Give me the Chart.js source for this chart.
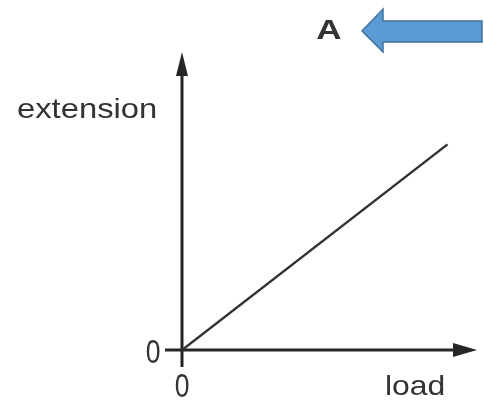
<!DOCTYPE html>
<html>
<head>
<meta charset="utf-8">
<script src="https://cdn.jsdelivr.net/npm/chart.js@4"></script>
<style>
  html, body { margin: 0; padding: 0; background: #fff; }
  #wrap { width: 484px; height: 404px; }
</style>
</head>
<body>
<div id="wrap"><canvas id="graph"></canvas></div>
<script>
// data: straight line through the origin
const load = [0, 9.0];
const extension = [0, 6.9];
const axisMax = 10;
const tickLabels = ['0'];
const xTitle = 'load';
const yTitle = 'extension';
const marker = 'A';

const ink = '#262626';

// draws the arrowed axes, labels and the blue pointer
const sketchPlugin = {
  id: 'sketch',
  beforeDatasetsDraw(chart) {
    const ctx = chart.ctx;
    const xs = chart.scales.x, ys = chart.scales.y;
    const ox = xs.getPixelForValue(0), oy = ys.getPixelForValue(0);
    const xEnd = xs.getPixelForValue(axisMax), yEnd = ys.getPixelForValue(axisMax);

    ctx.save();
    ctx.strokeStyle = ink;
    ctx.fillStyle = ink;
    ctx.lineWidth = 3;
    // x axis
    ctx.beginPath();
    ctx.moveTo(ox - 17, oy);
    ctx.lineTo(xEnd - 20, oy);
    ctx.stroke();
    ctx.beginPath();
    ctx.moveTo(xEnd, oy);
    ctx.lineTo(xEnd - 24, oy - 7);
    ctx.lineTo(xEnd - 24, oy + 7);
    ctx.closePath();
    ctx.fill();
    // y axis
    ctx.beginPath();
    ctx.moveTo(ox, oy + 17);
    ctx.lineTo(ox, yEnd + 20);
    ctx.stroke();
    ctx.beginPath();
    ctx.moveTo(ox, yEnd);
    ctx.lineTo(ox - 6, yEnd + 24);
    ctx.lineTo(ox + 6, yEnd + 24);
    ctx.closePath();
    ctx.fill();
    ctx.restore();
  },
  afterDraw(chart) {
    const ctx = chart.ctx;
    const xs = chart.scales.x, ys = chart.scales.y;
    const ox = xs.getPixelForValue(0), oy = ys.getPixelForValue(0);

    const text = (str, x, y, size, sx, align, weight) => {
      ctx.save();
      ctx.translate(x, y);
      ctx.scale(sx, 1);
      ctx.font = (weight || 'normal') + ' ' + size + 'px "Liberation Sans", Arial, sans-serif';
      ctx.textAlign = align;
      ctx.textBaseline = 'alphabetic';
      ctx.fillStyle = '#333';
      ctx.fillText(str, 0, 0);
      ctx.restore();
    };

    text(tickLabels[0], ox - 29, oy + 13, 34, 0.78, 'center');
    text(tickLabels[0], ox, oy + 47, 34, 0.78, 'center');
    text(yTitle, 17, 118, 28, 1.17, 'left');
    text(xTitle, 385, 395, 28, 1.14, 'left');
    text(marker, 329, 39, 28, 1.25, 'center', 'bold');

    // blue pointer arrow
    ctx.save();
    ctx.beginPath();
    ctx.moveTo(362, 31);
    ctx.lineTo(383, 9);
    ctx.lineTo(383, 21);
    ctx.lineTo(482, 21);
    ctx.lineTo(482, 42);
    ctx.lineTo(383, 42);
    ctx.lineTo(383, 52);
    ctx.closePath();
    ctx.fillStyle = '#5b9bd5';
    ctx.fill();
    ctx.strokeStyle = '#41719c';
    ctx.lineWidth = 1.5;
    ctx.stroke();
    ctx.restore();
  }
};

new Chart(document.getElementById('graph'), {
  type: 'scatter',
  data: {
    datasets: [{
      data: load.map((v, i) => ({ x: v, y: extension[i] })),
      showLine: true,
      borderColor: '#333',
      borderWidth: 2.5,
      pointRadius: 0,
      fill: false,
    }],
  },
  options: {
    responsive: true,
    maintainAspectRatio: false,
    animation: false,
    layout: { padding: { left: 182, right: 7, top: 52, bottom: 54 } },
    plugins: { legend: { display: false }, tooltip: { enabled: false } },
    scales: {
      x: { type: 'linear', min: 0, max: axisMax, display: false },
      y: { type: 'linear', min: 0, max: axisMax, display: false },
    },
  },
  plugins: [sketchPlugin],
});
</script>
</body>
</html>
